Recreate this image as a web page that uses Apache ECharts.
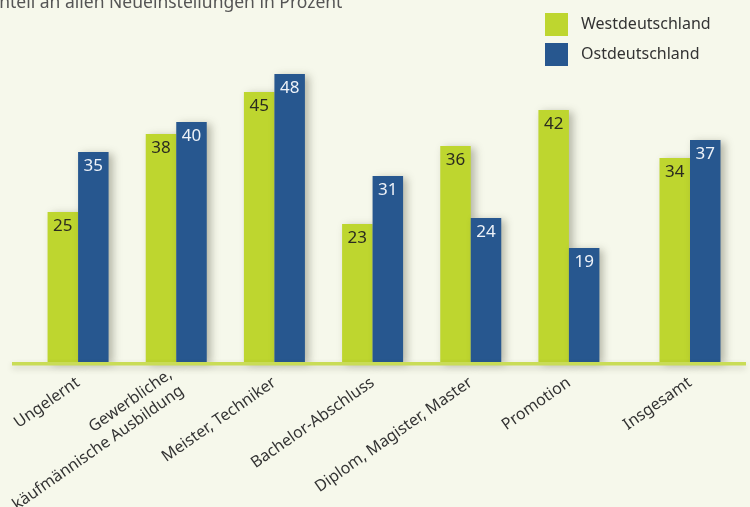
<!DOCTYPE html>
<html>
<head>
<meta charset="utf-8">
<script src="https://cdn.jsdelivr.net/npm/echarts@6/dist/echarts.min.js"></script>
<style>
	html, body { margin: 0; padding: 0; background: #f6f8eb; }
	#main { width: 750px; height: 507px; }
</style>
</head>
<body>
<div id="main"></div>
<script>
var categories = ['Ungelernt', 'Gewerbliche,\nkäufmännische Ausbildung', 'Meister, Techniker', 'Bachelor-Abschluss', 'Diplom, Magister, Master', 'Promotion', 'Insgesamt'];
var west = [25, 38, 45, 23, 36, 42, 34];
var ost = [35, 40, 48, 31, 24, 19, 37];
var seriesNames = ['Westdeutschland', 'Ostdeutschland'];
var titleText = 'Anteil an allen Neueinstellungen in Prozent';

var green = '#bed62f';
var blue = '#27578f';
var font = 'Noto Sans';

function barSeries(name, data, idx, color, labelColor) {
	return {
		name: name,
		type: 'bar',
		xAxisIndex: idx,
		yAxisIndex: idx,
		data: data,
		barWidth: 30.5,
		barGap: '0%',
		itemStyle: {
			color: color,
			shadowColor: 'rgba(60,60,40,0.35)',
			shadowBlur: 8,
			shadowOffsetX: 4,
			shadowOffsetY: 2
		},
		label: {
			show: true,
			position: 'insideTop',
			distance: 6,
			color: labelColor,
			fontFamily: font,
			fontSize: 17
		}
	};
}

var myChart = echarts.init(document.getElementById('main'));
var axisLabel = {
	rotate: 35,
	interval: 0,
	color: '#333',
	fontFamily: font,
	fontSize: 16,
	margin: 19,
	lineHeight: 20
};
myChart.setOption({
	backgroundColor: '#f6f8eb',
	animation: false,
	legend: {
		data: seriesNames,
		orient: 'vertical',
		left: 540,
		top: 8,
		itemWidth: 23,
		itemHeight: 23,
		itemGap: 7,
		icon: 'rect',
		textStyle: { color: '#333', fontFamily: font, fontSize: 16, padding: [0, 0, 0, 8] }
	},
	grid: [
		{ left: 29, top: 62, width: 589, height: 300, containLabel: false, outerBoundsMode: 'none' },
		{ left: 641, top: 62, width: 98, height: 300, containLabel: false, outerBoundsMode: 'none' }
	],
	xAxis: [
		{ type: 'category', gridIndex: 0, data: categories.slice(0, 6), axisLine: { show: false }, axisTick: { show: false }, axisLabel: axisLabel },
		{ type: 'category', gridIndex: 1, data: categories.slice(6), axisLine: { show: false }, axisTick: { show: false }, axisLabel: axisLabel }
	],
	yAxis: [
		{ type: 'value', gridIndex: 0, min: 0, max: 50, show: false },
		{ type: 'value', gridIndex: 1, min: 0, max: 50, show: false }
	],
	graphic: [
		{
			type: 'text', left: -12, top: -6,
			style: { text: titleText, fill: '#555', font: '17.5px "Noto Sans"' }
		},
		{
			type: 'rect', shape: { x: 12, y: 362, width: 734, height: 3.5 },
			style: { fill: '#c9dc57', shadowColor: 'rgba(60,60,40,0.2)', shadowBlur: 6, shadowOffsetY: 3 },
			z: 10
		}
	],
	series: [
		barSeries(seriesNames[0], west.slice(0, 6), 0, green, '#2b2b20'),
		barSeries(seriesNames[1], ost.slice(0, 6), 0, blue, '#eef2f8'),
		barSeries(seriesNames[0], west.slice(6), 1, green, '#2b2b20'),
		barSeries(seriesNames[1], ost.slice(6), 1, blue, '#eef2f8')
	]
});
</script>
</body>
</html>
